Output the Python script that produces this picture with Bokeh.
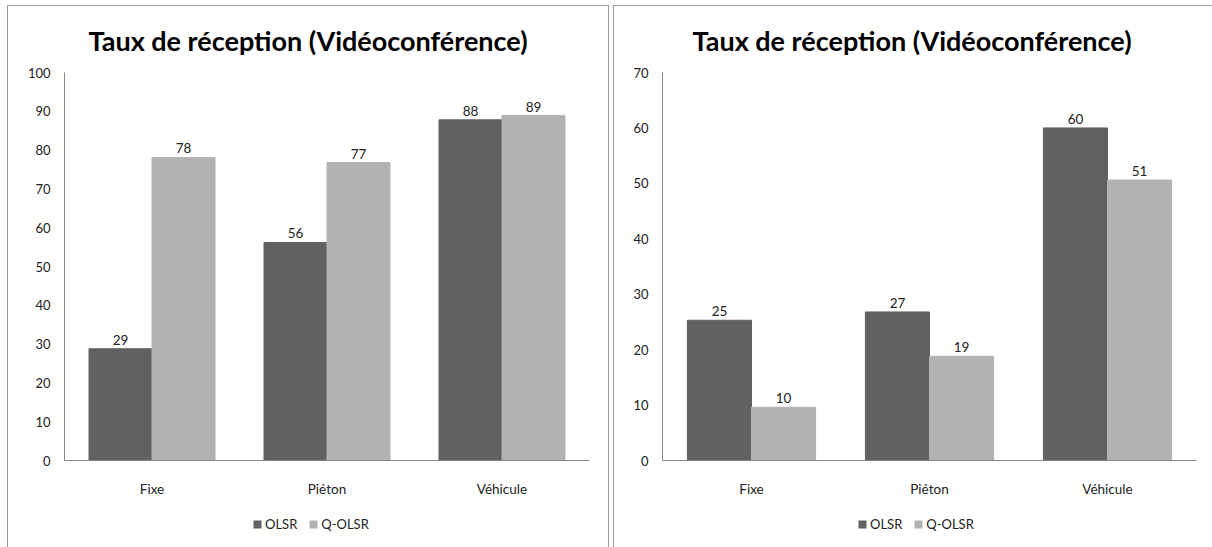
from bokeh.plotting import figure
from bokeh.models import (ColumnDataSource, FactorRange, FixedTicker,
                          Legend, LegendItem, Range1d)
from bokeh.transform import dodge
from bokeh.layouts import row, column
from bokeh.core.properties import value
from bokeh.embed import file_html
from bokeh.resources import INLINE

# ---------------- data ----------------
categories = ["Fixe", "Piéton", "Véhicule"]
series_names = ["OLSR", "Q-OLSR"]
title_text = "Taux de réception (Vidéoconférence)"

left_olsr = [28.8, 56.2, 87.8]
left_qolsr = [78.1, 76.8, 88.9]
left_ticks = [0, 10, 20, 30, 40, 50, 60, 70, 80, 90, 100]

right_olsr = [25.3, 26.8, 60.0]
right_qolsr = [9.6, 18.8, 50.6]
right_ticks = [0, 10, 20, 30, 40, 50, 60, 70]

# ---------------- style ----------------
DARK = "#616161"
LIGHT = "#b2b2b2"
AXIS = "#868686"
BORDER = "#9a9a9a"
TXT = "#222222"
FONT = "Lato"
CHART_H = 505
LEG_H = 42


def make_chart(olsr, qolsr, ticks, width, left_b, right_b, title_offset):
    src = ColumnDataSource(dict(
        cat=categories,
        olsr=olsr,
        qolsr=qolsr,
        olsr_lbl=[f"{v:.0f}" for v in olsr],
        qolsr_lbl=[f"{v:.0f}" for v in qolsr],
    ))
    p = figure(x_range=FactorRange(*categories), y_range=Range1d(ticks[0], ticks[-1]),
               width=width, height=CHART_H, output_backend="svg", toolbar_location=None,
               min_border_left=left_b, min_border_right=right_b,
               min_border_top=72, min_border_bottom=45)
    p.outline_line_color = None
    p.xgrid.grid_line_color = None
    p.ygrid.grid_line_color = None
    p.border_fill_color = None
    p.background_fill_color = None

    p.vbar(x=dodge("cat", -0.18, range=p.x_range), top="olsr", width=0.36,
           source=src, fill_color=DARK, line_color=DARK)
    p.vbar(x=dodge("cat", 0.18, range=p.x_range), top="qolsr", width=0.36,
           source=src, fill_color=LIGHT, line_color=LIGHT)

    for xo, col in ((-0.18, "olsr"), (0.18, "qolsr")):
        p.text(x=dodge("cat", xo, range=p.x_range), y=col, text=col + "_lbl", source=src,
               text_align="center", text_baseline="alphabetic", y_offset=-9,
               text_font=value(FONT), text_font_size="13.5px", text_color=TXT)

    p.yaxis.ticker = FixedTicker(ticks=ticks)
    p.yaxis.axis_line_color = AXIS
    p.yaxis.major_tick_line_color = None
    p.yaxis.minor_tick_line_color = None
    p.yaxis.major_tick_out = 0
    p.yaxis.major_tick_in = 0
    p.yaxis.major_label_standoff = 14
    p.yaxis.major_label_text_font = FONT
    p.yaxis.major_label_text_font_size = "13px"
    p.yaxis.major_label_text_color = TXT

    p.xaxis.axis_line_color = AXIS
    p.xaxis.major_tick_line_color = None
    p.xaxis.minor_tick_line_color = None
    p.xaxis.major_tick_out = 0
    p.xaxis.major_tick_in = 0
    p.xaxis.major_label_standoff = 20
    p.xaxis.major_label_text_font = FONT
    p.xaxis.major_label_text_font_size = "13.5px"
    p.xaxis.major_label_text_color = TXT

    p.title.text = title_text
    p.title.align = "left"
    p.title.offset = title_offset
    p.title.standoff = 31
    p.title.text_font = FONT
    p.title.text_font_size = "27px"
    p.title.text_font_style = "bold"
    p.title.text_color = "#000000"
    return p


def make_legend(width, legend_x):
    # separate strip below each chart, holding only the legend (swatches are
    # zero-size placeholder glyphs so that the legend can draw its squares)
    lf = figure(width=width, height=LEG_H, output_backend="svg", toolbar_location=None,
                x_range=Range1d(0, 1), y_range=Range1d(0, 1),
                x_axis_location=None, y_axis_location=None, min_border=0)
    lf.outline_line_color = None
    lf.xgrid.grid_line_color = None
    lf.ygrid.grid_line_color = None
    lf.border_fill_color = None
    lf.background_fill_color = None
    swatch = ColumnDataSource(dict(x=[0.0], y=[0.0]))
    g1 = lf.vbar(x="x", top="y", bottom="y", width=0.0, source=swatch,
                 fill_color=DARK, line_color=None)
    g2 = lf.vbar(x="x", top="y", bottom="y", width=0.0, source=swatch,
                 fill_color=LIGHT, line_color=None)
    legend = Legend(items=[LegendItem(label=series_names[0], renderers=[g1]),
                           LegendItem(label=series_names[1], renderers=[g2])],
                    orientation="horizontal", location=(legend_x, 13),
                    glyph_width=10, glyph_height=10, label_standoff=3, spacing=11,
                    padding=0, margin=0, border_line_color=None, background_fill_alpha=0,
                    label_text_font=FONT, label_text_font_size="13px",
                    label_text_color=TXT, label_height=20)
    lf.add_layout(legend)
    return lf


p1 = make_chart(left_olsr, left_qolsr, left_ticks, 611, 64, 22, 24)
l1 = make_legend(611, 188)
p2 = make_chart(right_olsr, right_qolsr, right_ticks, 601, 51, 16, 30)
l2 = make_legend(601, 195)

line = f"linear-gradient({BORDER},{BORDER})"
layout = row(column(p1, l1, spacing=0), column(p2, l2, spacing=0), spacing=0,
             styles={
                 "background-image": ", ".join([line] * 5),
                 "background-size": "1px 100%, 602px 1px, 1px 100%, 1px 100%, 600px 1px",
                 "background-position": "7px 5px, 7px 5px, 608px 5px, 613px 5px, 613px 5px",
                 "background-repeat": "no-repeat",
             })
open("out.html", "w").write(file_html(layout, INLINE))
